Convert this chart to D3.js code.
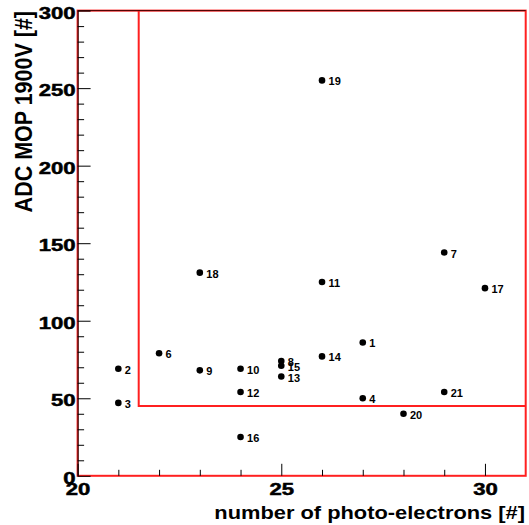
<!DOCTYPE html>
<html><head><meta charset="utf-8">
<script src="https://cdn.jsdelivr.net/npm/d3@7"></script>
<style>
html,body{margin:0;padding:0;background:#fff;}
svg{display:block;font-family:"Liberation Sans",Arial,Helvetica,sans-serif;font-weight:bold;}
</style></head><body>
<svg id="c" width="529" height="525"></svg>
<script>
// Data
const ids = [1, 2, 3, 4, 6, 7, 8, 9, 10, 11, 12, 13, 14, 15, 16, 17, 18, 19, 20, 21];
const photoElectrons = [27, 21, 21, 27, 22, 29, 25, 23, 24, 26, 24, 25, 26, 25, 24, 30, 23, 26, 28, 29];
const adcMop = [86, 69, 47, 50, 79, 144, 74, 68, 69, 125, 54, 64, 77, 71, 25, 121, 131, 255, 40, 54];
const xMajorTicks = [20, 25, 30];
const xMinorTicks = [21, 22, 23, 24, 26, 27, 28, 29];
const yMajorTicks = [0, 50, 100, 150, 200, 250, 300];
const yMinorTicks = [10,20,30,40,60,70,80,90,110,120,130,140,160,170,180,190,210,220,230,240,260,270,280,290];
const cutBox = [[21.5, 300], [21.5, 45], [31, 45]];
const xTitle = "number of photo-electrons [#]";
const yTitle = "ADC MOP 1900V [#]";

const svg = d3.select("#c");
svg.append("rect").attr("width",529).attr("height",525).attr("fill","#fff");

const x = d3.scaleLinear().domain([20, 31]).range([77.6, 525.7]);
const y = d3.scaleLinear().domain([0, 300]).range([475.8, 10.6]);

// frame (red)
svg.append("rect")
  .attr("x", x(20)).attr("y", y(300))
  .attr("width", x(31) - x(20)).attr("height", y(0) - y(300))
  .attr("fill", "none").attr("stroke", "#ff2020").attr("stroke-width", 2);

// cut lines (red)
svg.append("path")
  .attr("d", d3.line().x(d => x(d[0])).y(d => y(d[1]))(cutBox))
  .attr("fill", "none").attr("stroke", "#ff2020").attr("stroke-width", 2);

// top line dark
svg.append("line").attr("x1", x(20)).attr("x2", x(31)).attr("y1", y(300)).attr("y2", y(300))
  .attr("stroke", "#400").attr("stroke-width", 1);

// X axis
const gx = svg.append("g").attr("transform", `translate(0,${y(0)})`);
gx.call(d3.axisBottom(x).tickValues(xMajorTicks).tickSizeInner(-12).tickSizeOuter(0).tickPadding(0).tickFormat(d3.format("d")));
gx.append("g").call(d3.axisBottom(x).tickValues(xMinorTicks).tickSizeInner(-6).tickSizeOuter(0).tickFormat(""));
gx.selectAll(".domain").remove();
gx.selectAll("line").attr("stroke", "#000");
gx.selectAll("text").attr("font-size", 17).attr("font-weight","bold").attr("fill","#000")
  .attr("stroke", "#000").attr("stroke-width", 0.5)
  .attr("font-family", "Liberation Sans, Arial, sans-serif")
  .attr("y", 19.3).attr("dy", 0).attr("transform", "scale(1.3,1)");

// Y axis
const gy = svg.append("g").attr("transform", `translate(${x(20)},0)`);
gy.call(d3.axisLeft(y).tickValues(yMajorTicks).tickSizeInner(-13).tickSizeOuter(0).tickPadding(0).tickFormat(d3.format("d")));
gy.append("g").call(d3.axisLeft(y).tickValues(yMinorTicks).tickSizeInner(-6.5).tickSizeOuter(0).tickFormat(""));
gy.selectAll("g g .domain").remove();
gy.selectAll(".domain").attr("stroke", "#000").attr("stroke-width", 1);
gy.selectAll("line").attr("stroke", "#000");
gy.selectAll("text").attr("font-size", 17).attr("font-weight","bold").attr("fill","#000")
  .attr("stroke", "#000").attr("stroke-width", 0.5)
  .attr("font-family", "Liberation Sans, Arial, sans-serif")
  .attr("x", -1.6).attr("dy", "0.45em").attr("transform", "scale(1.3,1)");

// Points
const pts = ids.map((id, i) => ({id, px: photoElectrons[i], py: adcMop[i]}));
svg.append("g").selectAll("circle").data(pts).join("circle")
  .attr("cx", d => x(d.px)).attr("cy", d => y(d.py)).attr("r", 3.3).attr("fill", "#000");
svg.append("g").selectAll("text").data(pts).join("text")
  .attr("x", d => x(d.px) + 6.5).attr("y", d => y(d.py) + 5)
  .attr("font-size", 11).attr("fill", "#000")
  .text(d => d.id);

// Axis titles
svg.append("text").attr("text-anchor", "end")
  .attr("transform", `translate(525,519) scale(1.15,1)`)
  .attr("font-size", 19).attr("fill", "#000").text(xTitle);
svg.append("text").attr("text-anchor", "end")
  .attr("transform", `translate(32,11) rotate(-90) scale(1,1.08)`)
  .attr("font-size", 21.5).attr("fill", "#000").text(yTitle);
</script>
</body></html>
